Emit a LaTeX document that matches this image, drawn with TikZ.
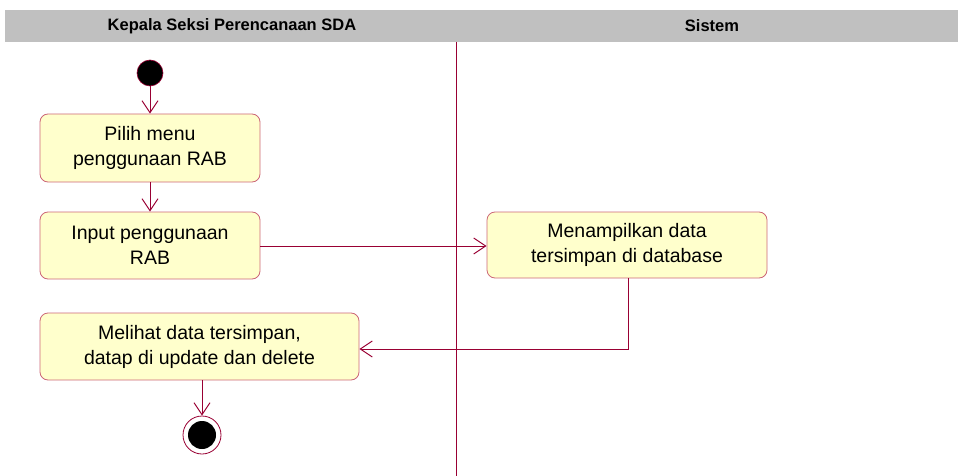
\documentclass[tikz,border=0pt]{standalone}
\usepackage{fontspec}
\setmainfont{Liberation Sans}
\usetikzlibrary{arrows.meta}
\definecolor{lineC}{RGB}{153,0,51}
\definecolor{boxBorder}{RGB}{204,102,119}
\definecolor{boxFill}{RGB}{255,255,204}
\definecolor{headGray}{RGB}{192,192,192}
\tikzset{
  act/.style={draw=boxBorder, fill=boxFill, rounded corners=8pt, line width=0.8pt, align=center, font=\fontsize{19.5}{25}\selectfont, inner sep=0pt},
  flow/.style={draw=lineC, line width=1pt, -{Straight Barb[length=12pt,width=16pt,line width=1pt]}},
  headtxt/.style={font=\bfseries\fontsize{16.5}{18}\selectfont}
}
\begin{document}
\begin{tikzpicture}[x=1pt,y=-1pt]
\useasboundingbox (0,0) rectangle (958,476);
\fill[headGray] (5,10) rectangle (958,42);
\node[headtxt] (h1) at (232,26) {Kepala Seksi Perencanaan SDA};
\node[headtxt] (h2) at (712,26) {Sistem};
\draw[lineC, line width=0.8pt] (456,42) -- (456,476);

\node[circle, fill=black, draw=lineC, line width=0.6pt, minimum size=26pt, inner sep=0pt] (start) at (150,73) {};
\node[act, minimum width=220pt, minimum height=68pt] (b1) at (150,148) {Pilih menu\\penggunaan RAB};
\node[act, minimum width=220pt, minimum height=67pt] (b2) at (150,245.5) {Input penggunaan\\RAB};
\node[act, minimum width=280pt, minimum height=66pt] (b3) at (627,245) {Menampilkan data\\tersimpan di database};
\node[act, minimum width=319pt, minimum height=67pt] (b4) at (199.5,346.5) {Melihat data tersimpan,\\datap di update dan delete};
\node[circle, draw=lineC, fill=white, line width=0.8pt, minimum size=38pt, inner sep=0pt] (end) at (202,435) {};
\node[circle, fill=black, minimum size=28pt, inner sep=0pt] (endin) at (end.center) {};

\draw[flow] (start) -- (b1);
\draw[flow] (b1) -- (b2);
\draw[flow] (b2.east |- 0,246) -- (b3.west |- 0,246);
\draw[flow] (b3.south -| 628,0) |- (b4.east |- 0,349);
\draw[flow] (b4.south -| 202,0) -- (end.north);
\end{tikzpicture}
\end{document}
